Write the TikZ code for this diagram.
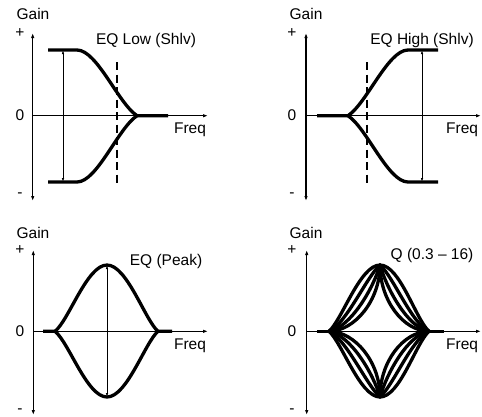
\documentclass[tikz,border=0pt]{standalone}
\usepackage{fontspec}
\setmainfont{Liberation Sans}
\usetikzlibrary{arrows.meta}
\tikzset{
  axis/.style={line width=1.3pt,{Latex[length=5pt,width=3.5pt]}-{Latex[length=5pt,width=3.5pt]}},
  haxis/.style={line width=1.3pt,-{Latex[length=5pt,width=3.5pt]}},
  curve/.style={line width=3.3pt,line join=round},
  thinarr/.style={line width=0.8pt,{Latex[length=4pt,width=2.5pt]}-{Latex[length=4pt,width=2.5pt]}},
  cutoff/.style={line width=2.2pt,dash pattern=on 8pt off 4.5pt},
  lbl/.style={font=\fontsize{15.5}{18}\selectfont,inner sep=0pt}
}
\begin{document}
\begin{tikzpicture}[x=1pt,y=-1pt]
\useasboundingbox (0,0) rectangle (482,416);
% ---------- Panel 1: EQ Low (Shlv)
\coordinate (a1t) at (32.7,33); \coordinate (a1b) at (32.7,201);
\coordinate (a1o) at (32.7,115.7); \coordinate (a1r) at (208,115.7);
\draw[axis] (a1b) -- (a1t);
\draw[haxis] (a1o) -- (a1r);
\node[lbl] (g1) at (33,14) {Gain};
\node[lbl] (p1) at (20,33) {+};
\node[lbl] (z1) at (20,115) {0};
\node[lbl] (m1) at (20,195) {-};
\node[lbl] (f1) at (190,130) {Freq};
\node[lbl] (t1) at (146,40) {EQ Low (Shlv)};
\coordinate (c1a) at (48,50); \coordinate (c1b) at (77,50);
\coordinate (c1m) at (137,115.7); \coordinate (c1e) at (168,115.7);
\coordinate (c1c) at (48,182); \coordinate (c1d) at (77,182);
\draw[curve] (c1a) -- (c1b) .. controls (97,50) and (118,103) .. (c1m) -- (c1e);
\draw[curve] (c1c) -- (c1d) .. controls (97,182) and (118,128.4) .. (c1m);
\coordinate (v1t) at (63,50); \coordinate (v1b) at (63,182);
\draw[thinarr] (v1t) -- (v1b);
\coordinate (d1t) at (117,62); \coordinate (d1b) at (117,184);
\draw[cutoff] (d1t) -- (d1b);
% ---------- Panel 2: EQ High (Shlv)
\coordinate (a2t) at (306,33); \coordinate (a2b) at (306,201);
\coordinate (a2o) at (306,115.7); \coordinate (a2r) at (481,115.7);
\draw[axis] (a2b) -- (a2t);
\draw[haxis] (a2o) -- (a2r);
\node[lbl] (g2) at (306,14) {Gain};
\node[lbl] (p2) at (292,33) {+};
\node[lbl] (z2) at (292,115) {0};
\node[lbl] (m2) at (292,195) {-};
\node[lbl,anchor=west] (f2) at (446,130) {Freq};
\node[lbl] (t2) at (422,40) {EQ High (Shlv)};
\coordinate (c2s) at (317,115.7); \coordinate (c2m) at (348,115.7);
\coordinate (c2u) at (408,50); \coordinate (c2ue) at (438,50);
\coordinate (c2d) at (408,182); \coordinate (c2de) at (438,182);
\draw[curve] (c2s) -- (c2m) .. controls (367,103) and (388,50) .. (c2u) -- (c2ue);
\draw[curve] (c2m) .. controls (367,128.4) and (388,182) .. (c2d) -- (c2de);
\coordinate (v2t) at (422,50); \coordinate (v2b) at (422,182);
\draw[thinarr] (v2t) -- (v2b);
\coordinate (d2t) at (367,62); \coordinate (d2b) at (367,184);
\draw[cutoff] (d2t) -- (d2b);
% ---------- Panel 3: EQ (Peak)
\coordinate (a3t) at (33.3,250); \coordinate (a3b) at (33.3,415);
\coordinate (a3o) at (33.3,331.3); \coordinate (a3r) at (208,331.3);
\draw[axis] (a3b) -- (a3t);
\draw[haxis] (a3o) -- (a3r);
\node[lbl] (g3) at (33,233) {Gain};
\node[lbl] (p3) at (20,250) {+};
\node[lbl] (z3) at (20,331) {0};
\node[lbl] (m3) at (20,411) {-};
\node[lbl] (f3) at (190,346) {Freq};
\node[lbl] (t3) at (166,261) {EQ (Peak)};
\coordinate (c3a) at (43,331.3); \coordinate (c3l) at (55,331.3);
\coordinate (c3p) at (107,265); \coordinate (c3n) at (107,397);
\coordinate (c3r) at (158,331.3); \coordinate (c3e) at (172,331.3);
\draw[curve] (c3a) -- (c3l) .. controls (69,320) and (87,265) .. (c3p)
  .. controls (127,265) and (145,320) .. (c3r) -- (c3e);
\draw[curve] (c3l) .. controls (69,342.6) and (87,397) .. (c3n)
  .. controls (127,397) and (145,342.6) .. (c3r);
\draw[thinarr] (c3p) -- (c3n);
% ---------- Panel 4: Q
\coordinate (a4t) at (306.7,250); \coordinate (a4b) at (306.7,415);
\coordinate (a4o) at (306.7,331.3); \coordinate (a4r) at (481,331.3);
\draw[axis] (a4b) -- (a4t);
\draw[haxis] (a4o) -- (a4r);
\node[lbl] (g4) at (306,233) {Gain};
\node[lbl] (p4) at (292,250) {+};
\node[lbl] (z4) at (292,331) {0};
\node[lbl] (m4) at (292,411) {-};
\node[lbl,anchor=west] (f4) at (446,346) {Freq};
\node[lbl] (t4) at (432,255) {Q (0.3 – 16)};
\coordinate (c4a) at (317,331.3); \coordinate (c4l) at (329,331.3);
\coordinate (c4p) at (380,265); \coordinate (c4n) at (380,397);
\coordinate (c4r) at (429,331.3); \coordinate (c4e) at (444,331.3);
\draw[curve] (c4a) -- (c4l); \draw[curve] (c4r) -- (c4e);
\foreach \t in {0,0.333,0.667,1}{
  \draw[curve] (c4l) .. controls ({342+13*\t},{320+11*\t}) and ({360+20*\t},{265+35*\t}) .. (c4p)
    .. controls ({400-20*\t},{265+35*\t}) and ({416-13*\t},{320+11*\t}) .. (c4r);
  \draw[curve] (c4l) .. controls ({342+13*\t},{342.6-11*\t}) and ({360+20*\t},{397-35*\t}) .. (c4n)
    .. controls ({400-20*\t},{397-35*\t}) and ({416-13*\t},{342.6-11*\t}) .. (c4r);
}
\end{tikzpicture}
\end{document}
